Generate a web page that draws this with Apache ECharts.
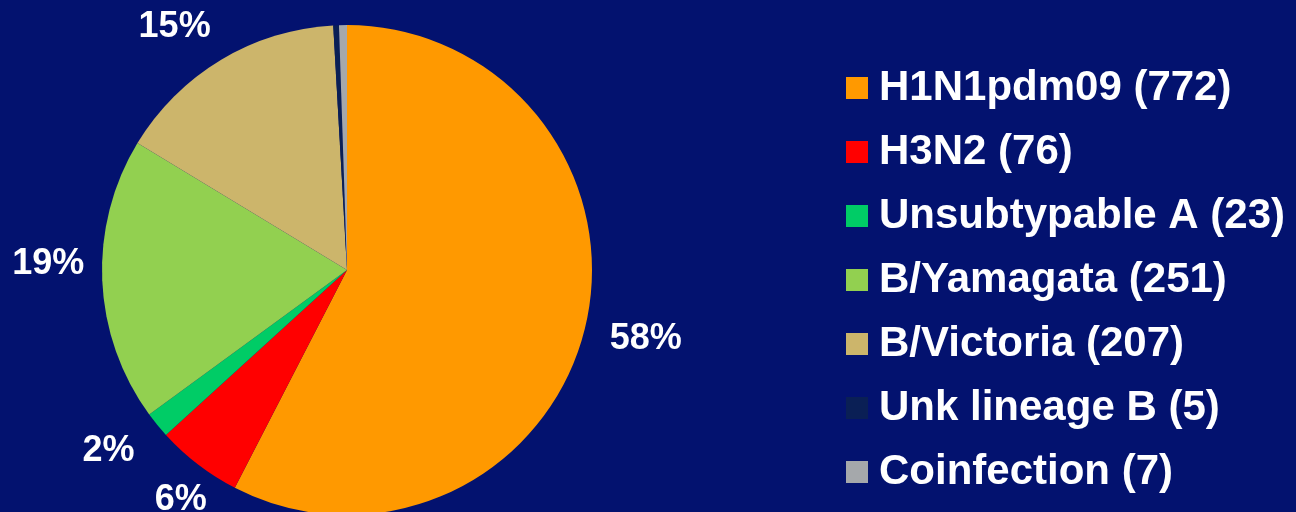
<!DOCTYPE html>
<html>
<head>
<meta charset="utf-8">
<script src="https://cdn.jsdelivr.net/npm/echarts@6/dist/echarts.min.js"></script>
<style>
  html, body { margin: 0; padding: 0; background: #03126F; }
  #chart { width: 1296px; height: 512px; }
</style>
</head>
<body>
<div id="chart"></div>
<script>
// 流感分型数据
var names = ["H1N1pdm09", "H3N2", "Unsubtypable A", "B/Yamagata", "B/Victoria", "Unk lineage B", "Coinfection"];
var counts = [772, 76, 23, 251, 207, 5, 7];
var colors = ["#FF9900", "#FF0000", "#00CC66", "#92D050", "#CCB56B", "#0A1F55", "#A5A8AB"];
var hideLabel = ["Unk lineage B", "Coinfection"];

// 标签微调 (dx, dy)
var labelShift = [[12, 1], [15, 0], [-9, -2], [-4, -18], [-18, 6], [0, 0], [0, 0]];

var mycharts = echarts.init(document.getElementById('chart'));

var result = [];
for (var i = 0, n = names.length; i < n; i++) {
	var item = { name: names[i] + " (" + counts[i] + ")", value: counts[i] };
	if (hideLabel.indexOf(names[i]) >= 0) {
		item.label = { show: false };
	}
	result.push(item);
}

var option = {
	backgroundColor: '#03126F',
	color: colors,
	legend: {
		orient: 'vertical',
		left: 841,
		top: 62,
		itemWidth: 22,
		itemHeight: 22,
		itemGap: 22,
		icon: 'rect',
		textStyle: {
			color: '#fff',
			fontFamily: 'Liberation Sans, Arial, sans-serif',
			fontWeight: 'bold',
			fontSize: 42,
			lineHeight: 42,
			padding: [0, 0, 0, 6]
		},
		data: result.map(function (d) { return d.name; })
	},
	series: [
		{
			type: 'pie',
			radius: 245,
			center: [347, 270],
			startAngle: 90,
			clockwise: true,
			avoidLabelOverlap: false,
			percentPrecision: 0,
			label: {
				show: true,
				position: 'outside',
				formatter: '{d}%',
				color: '#fff',
				fontFamily: 'Liberation Sans, Arial, sans-serif',
				fontWeight: 'bold',
				fontSize: 36
			},
			labelLine: {
				show: false,
				length: 45,
				length2: 0
			},
			labelLayout: function (params) {
				var s = labelShift[params.dataIndex] || [0, 0];
				return { align: 'center', verticalAlign: 'middle', dx: s[0], dy: s[1] };
			},
			emphasis: { disabled: true },
			data: result
		}
	]
};
mycharts.setOption(option);
</script>
</body>
</html>
